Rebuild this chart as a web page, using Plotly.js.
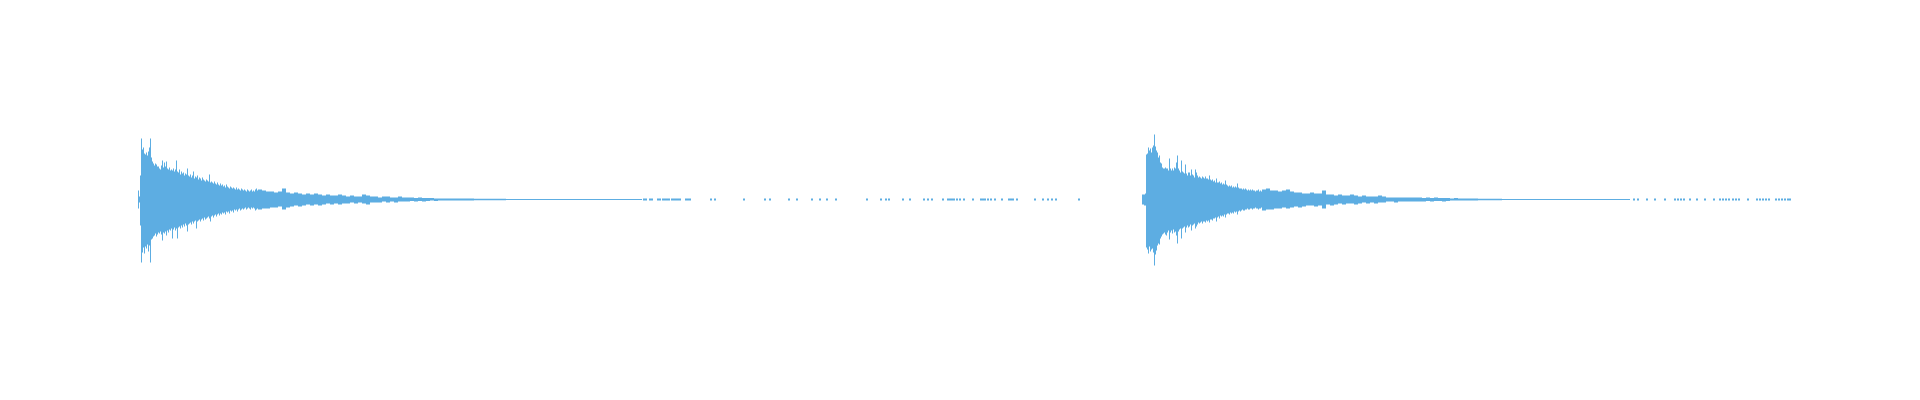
<!DOCTYPE html>
<html>
<head>
<meta charset="utf-8">
<script src="https://cdn.plot.ly/plotly-3.0.1.min.js"></script>
<style>html,body{margin:0;padding:0;background:#fff;}#chart{width:1920px;height:400px;}</style>
</head>
<body>
<div id="chart"></div>
<script>
// Time axis in seconds; amplitude in arbitrary units (full scale about +/-200)
const w1Start = 1.38;
const w2Start = 11.42;
const fineStep = 0.01;
const coarseStep = 0.04;
const tailStep = 0.08;

// Waveform 1 - attack / decay, fine resolution (upper and lower envelope)
const w1FineTop = [9,3,24,61,50,52,46,45,47,44,48,52,61,42,38,36,34,36,35,33,33,31,30,34,39,32,37,33,38,31,30,32,29,30,29,31,28,30,39,28,27,30,25,28,26,27,24,26,25,31,24,23,25,22,24,28,21,23,22,24,20,22,21,19,22,20,19,18,20,19,18,25,17,18,17,16,18,16,15,17,15,14,16,14,15,13,14,12,15,13,12,11,13,12,11,12,11,10,12,10,11,10,9,11,10,9,10,9,8,10,9,8,9,10,8,9,8,10,11,9];
const w1FineBot = [-9,-3,-26,-63,-53,-48,-54,-47,-49,-45,-52,-46,-63,-40,-39,-37,-36,-34,-37,-35,-33,-34,-32,-35,-41,-33,-34,-32,-36,-31,-33,-30,-31,-29,-39,-30,-28,-31,-29,-39,-28,-27,-29,-26,-28,-25,-27,-24,-26,-32,-25,-24,-23,-25,-22,-24,-22,-21,-29,-22,-21,-20,-22,-20,-19,-21,-18,-20,-19,-18,-17,-19,-22,-17,-16,-18,-16,-15,-17,-15,-14,-16,-14,-15,-13,-14,-13,-15,-12,-13,-12,-14,-11,-12,-11,-13,-10,-11,-10,-12,-10,-9,-11,-10,-9,-10,-9,-8,-10,-9,-8,-9,-10,-8,-9,-8,-9,-11,-10,-9];
// Waveform 1 - decay, coarse resolution
const w1CoarseTop = [10,9,8,8,7,8,11,7,6,7,6,5,6,5,6,5,4,5,4,4,5,4,3,4,3,3,5,4,3,3,2,3,3,2,2,3,2,2,2,1.5,2,1.5,1.5,1.5,1,1,1,1,1,1];
const w1CoarseBot = [-10,-9,-9,-8,-8,-7,-10,-8,-7,-6,-7,-6,-5,-6,-5,-6,-5,-4,-5,-4,-5,-4,-4,-3,-4,-3,-4,-5,-3,-3,-3,-2,-3,-2,-3,-2,-2,-2,-1.5,-2,-1.5,-2,-1.5,-1,-1.5,-1,-1,-1,-1,-1];
// Waveform 1 - residual tail
const w1TailTop = [1,1,0.8,0.8,0.8,0.8,0.5,0.5,0.5,0.5,0.5,0.5,0.5,0.5,0.5,0.5,0.5,0.5,0.5,0.5,0.5,0.5,0.5,0.5];
const w1TailBot = [-1,-1,-0.8,-0.8,-0.8,-0.8,-0.5,-0.5,-0.5,-0.5,-0.5,-0.5,-0.5,-0.5,-0.5,-0.5,-0.5,-0.5,-0.5,-0.5,-0.5,-0.5,-0.5,-0.5];

// Waveform 2 - attack / decay, fine resolution
const w2FineTop = [5,5,5,6,45,46,52,49,51,47,52,54,65,53,49,47,42,44,37,36,32,31,31,32,31,31,29,41,31,29,31,29,32,31,37,44,31,29,27,39,28,27,26,35,26,24,27,27,24,30,25,24,22,30,27,24,22,23,22,21,23,22,21,23,21,21,20,24,20,19,20,18,19,17,21,17,17,18,16,17,15,16,15,19,15,14,13,14,13,14,12,13,12,13,12,16,12,11,11,11,10,11,10,11,10,9,10,9,10,9,10,9,9,8,9,9,10,8,9,8];
const w2FineBot = [-5,-5,-6,-6,-48,-50,-54,-47,-52,-50,-49,-53,-66,-55,-51,-46,-44,-45,-39,-37,-35,-34,-33,-35,-36,-33,-31,-40,-33,-31,-34,-30,-33,-32,-36,-44,-32,-30,-29,-39,-29,-28,-27,-33,-28,-26,-28,-27,-25,-31,-26,-25,-24,-29,-27,-25,-23,-24,-23,-22,-24,-22,-22,-23,-21,-22,-21,-23,-20,-20,-21,-19,-19,-18,-22,-18,-17,-19,-16,-17,-16,-17,-15,-18,-15,-14,-14,-15,-13,-14,-13,-14,-12,-13,-12,-15,-12,-11,-12,-11,-10,-11,-11,-10,-10,-9,-10,-10,-9,-9,-10,-9,-9,-8,-9,-9,-10,-9,-9,-8];
// Waveform 2 - decay, coarse resolution
const w2CoarseTop = [10,11,9,9,8,9,10,8,7,7,6,6,7,6,6,9,5,5,4,5,4,4,5,4,3,4,3,3,3,4,3,2,2,2,2,2,2,2,2,2,1.5,2,1.5,2,1.5,1.5,1.5,1,1.5,1];
const w2CoarseBot = [-11,-10,-10,-9,-9,-8,-9,-8,-7,-8,-7,-6,-6,-7,-6,-9,-5,-6,-5,-4,-5,-4,-4,-5,-4,-3,-4,-3,-4,-3,-3,-2,-2,-3,-2,-2,-2,-2,-2,-2,-2,-1.5,-2,-1.5,-1.5,-2,-1.5,-1,-1,-1];
// Waveform 2 - residual tail
const w2TailTop = [1,1,0.8,0.8,0.8,0.5,0.5,0.5,0.5,0.5,0.5,0.5,0.5,0.5,0.5,0.5,0.5,0.5,0.5,0.5,0.5,0.5];
const w2TailBot = [-1,-1,-0.8,-0.8,-0.8,-0.5,-0.5,-0.5,-0.5,-0.5,-0.5,-0.5,-0.5,-0.5,-0.5,-0.5,-0.5,-0.5,-0.5,-0.5,-0.5,-0.5];

// Isolated near-silent samples after each decay (time, s)
const w1Dots = [6.44,6.46,6.50,6.52,6.58,6.60,6.63,6.65,6.67,6.69,6.72,6.74,6.76,6.78,6.80,6.86,6.88,6.90,7.11,7.15,7.44,7.65,7.70,7.89,7.97,8.12,8.20,8.27,8.36,8.67,8.81,8.86,8.89,9.03,9.10,9.24,9.28,9.32,9.43,9.48,9.50,9.52,9.54,9.57,9.60,9.64,9.73,9.81,9.83,9.85,9.88,9.91,9.95,10.02,10.09,10.11,10.13,10.17,10.35,10.43,10.48,10.52,10.56,10.79];
const w2Dots = [16.34,16.38,16.47,16.55,16.65,16.75,16.78,16.81,16.84,16.90,16.97,17.05,17.14,17.20,17.23,17.26,17.29,17.33,17.36,17.39,17.48,17.57,17.60,17.63,17.66,17.69,17.76,17.79,17.82,17.85,17.88,17.90];

const COLOR = '#5DADE2';

function times(start, step, n) {
  const t = [];
  for (let i = 0; i < n; i++) t.push(+(start + i * step).toFixed(4));
  return t;
}
function buildWave(start, fine, coarse, tail) {
  const tf = times(start, fineStep, fine.length);
  const cStart = start + fine.length * fineStep;
  const tc = times(cStart, coarseStep, coarse.length);
  const tStart = cStart + coarse.length * coarseStep;
  const tt = times(tStart, tailStep, tail.length);
  return {x: tf.concat(tc, tt), y: fine.concat(coarse, tail)};
}

const traces = [];
[[w1Start, w1FineTop, w1CoarseTop, w1TailTop, 'none'],
 [w1Start, w1FineBot, w1CoarseBot, w1TailBot, 'tonexty'],
 [w2Start, w2FineTop, w2CoarseTop, w2TailTop, 'none'],
 [w2Start, w2FineBot, w2CoarseBot, w2TailBot, 'tonexty']].forEach(function (a) {
  const w = buildWave(a[0], a[1], a[2], a[3]);
  traces.push({
    type: 'scatter', mode: 'lines', x: w.x, y: w.y,
    line: {shape: 'hv', color: COLOR, width: 0},
    fill: a[4], fillcolor: COLOR, hoverinfo: 'skip'
  });
});
traces.push({
  type: 'scatter', mode: 'markers', x: w1Dots.concat(w2Dots),
  y: w1Dots.concat(w2Dots).map(function () { return 0; }),
  marker: {symbol: 'square', size: 2, color: COLOR}, hoverinfo: 'skip'
});

Plotly.newPlot('chart', traces, {
  width: 1920, height: 400,
  margin: {l: 0, r: 0, t: 0, b: 0},
  paper_bgcolor: '#ffffff', plot_bgcolor: '#ffffff',
  showlegend: false,
  xaxis: {visible: false, range: [0, 19.2]},
  yaxis: {visible: false, range: [-200.5, 199.5]}
}, {staticPlot: true});
</script>
</body>
</html>
